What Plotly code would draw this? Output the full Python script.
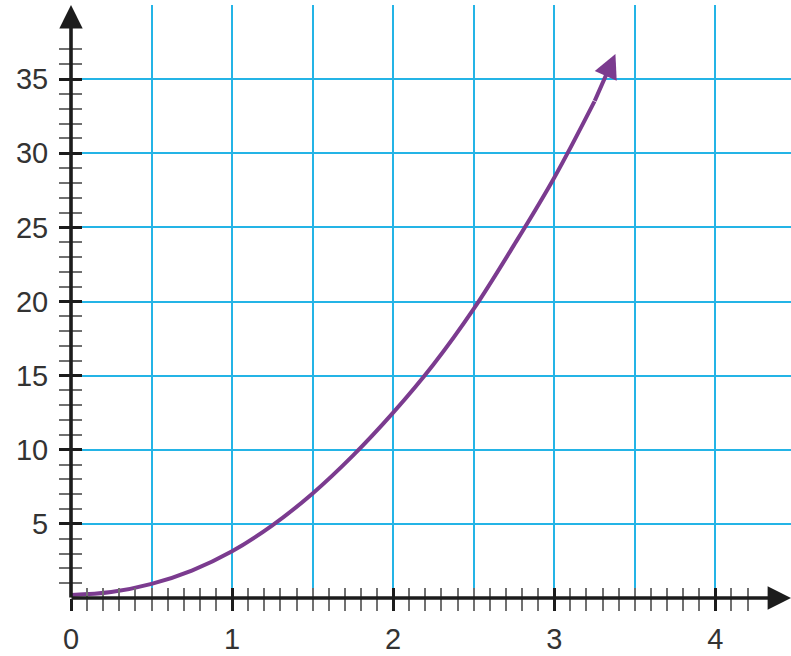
import plotly.graph_objects as go

# curve points (last point = arrow tip)
curve_x = [0, 0.25, 0.5, 0.75, 1, 1.25, 1.5, 1.75, 2, 2.25, 2.5, 2.75, 3, 3.25, 3.38]
curve_y = [0.2, 0.4, 0.95, 1.85, 3.15, 4.9, 7.05, 9.6, 12.5, 15.75, 19.5, 23.8, 28.35, 33.5, 36.7]

# axis extents and ticks
x_max = 4.47
y_max = 40
x_major = [0, 1, 2, 3, 4]
x_labels = ['0', '1', '2', '3', '4']
x_minor = [i / 10 for i in range(1, 43) if i % 10 != 0]
x_grid = [0.5, 1, 1.5, 2, 2.5, 3, 3.5, 4]
y_major = [5, 10, 15, 20, 25, 30, 35]
y_labels = ['5', '10', '15', '20', '25', '30', '35']
y_minor = [i for i in range(1, 38) if i % 5 != 0]
y_grid = [5, 10, 15, 20, 25, 30, 35, 40]

purple = '#7B3B8F'
grid_blue = '#24B4E6'
axis_black = '#1c1c1c'
tick_gray = '#707070'
label_font = dict(family='Liberation Sans, Arial, sans-serif', size=29, color='#333333')

fig = go.Figure()

# the curve (last segment is drawn by the arrow annotation)
fig.add_trace(go.Scatter(
    x=curve_x[:-1], y=curve_y[:-1],
    mode='lines',
    line=dict(color=purple, width=4, shape='spline', smoothing=1.0),
    hoverinfo='skip', showlegend=False))

# invisible traces so the overlay axes get drawn
for xa, ya in [('x2', 'y2'), ('x3', 'y3')]:
    fig.add_trace(go.Scatter(
        x=curve_x, y=curve_y, xaxis=xa, yaxis=ya,
        mode='lines', line=dict(width=0), opacity=0,
        hoverinfo='skip', showlegend=False))

base_x = dict(range=[0, x_max], zeroline=False, showline=False, showgrid=False,
              fixedrange=True, automargin=False)
base_y = dict(range=[0, y_max], zeroline=False, showline=False, showgrid=False,
              fixedrange=True, automargin=False)

fig.update_layout(
    width=791, height=656,
    margin=dict(l=71, r=0, t=5, b=58),
    plot_bgcolor='white', paper_bgcolor='white',
    # labelled axes, ticks below / left of the axis lines
    xaxis=dict(base_x, tickvals=x_major, ticktext=x_labels,
               ticks='outside', ticklen=12, tickwidth=3, tickcolor=axis_black,
               tickfont=label_font, ticklabelstandoff=3,
               minor=dict(tickvals=x_minor, ticks='outside', ticklen=12,
                          tickwidth=2, tickcolor=tick_gray, showgrid=False)),
    yaxis=dict(base_y, tickvals=y_major, ticktext=y_labels,
               ticks='outside', ticklen=11, tickwidth=3, tickcolor=axis_black,
               tickfont=label_font, ticklabelstandoff=5,
               minor=dict(tickvals=y_minor, ticks='outside', ticklen=11,
                          tickwidth=2, tickcolor=tick_gray, showgrid=False)),
    # same ticks on the inner side, so they cross the axis lines
    xaxis2=dict(base_x, overlaying='x', anchor='y2', tickvals=x_major,
                ticks='inside', ticklen=10, tickwidth=3, tickcolor=axis_black,
                showticklabels=False,
                minor=dict(tickvals=x_minor, ticks='inside', ticklen=10,
                           tickwidth=2, tickcolor=tick_gray, showgrid=False)),
    yaxis2=dict(base_y, overlaying='y', anchor='x2', tickvals=y_major,
                ticks='inside', ticklen=11, tickwidth=3, tickcolor=axis_black,
                showticklabels=False,
                minor=dict(tickvals=y_minor, ticks='inside', ticklen=11,
                           tickwidth=2, tickcolor=tick_gray, showgrid=False)),
    # the blue grid
    xaxis3=dict(base_x, overlaying='x', anchor='y3', tickvals=x_grid, ticks='',
                showticklabels=False, showgrid=True, gridcolor=grid_blue, gridwidth=2),
    yaxis3=dict(base_y, overlaying='y', anchor='x3', tickvals=y_grid, ticks='',
                showticklabels=False, showgrid=True, gridcolor=grid_blue, gridwidth=2),
)

arrow_common = dict(axref='x', ayref='y', text='', font=dict(size=1), borderpad=0,
                    showarrow=True, arrowhead=2)

# axis arrows
fig.add_annotation(x=0, y=y_max, ax=0, ay=0, arrowsize=1.3, arrowwidth=3.6,
                   arrowcolor=axis_black, **arrow_common)
fig.add_annotation(x=x_max, y=0, ax=0, ay=0, arrowsize=1.3, arrowwidth=3.6,
                   arrowcolor=axis_black, **arrow_common)

# arrow at the end of the curve
fig.add_annotation(x=curve_x[-1], y=curve_y[-1], ax=curve_x[-2], ay=curve_y[-2],
                   arrowsize=1.2, arrowwidth=4, arrowcolor=purple, **arrow_common)

# drop the page's default body margin so the figure sits at the top-left corner
fig.write_html("out.html", config={'displayModeBar': False},
               post_script="document.body.style.margin='0';")
